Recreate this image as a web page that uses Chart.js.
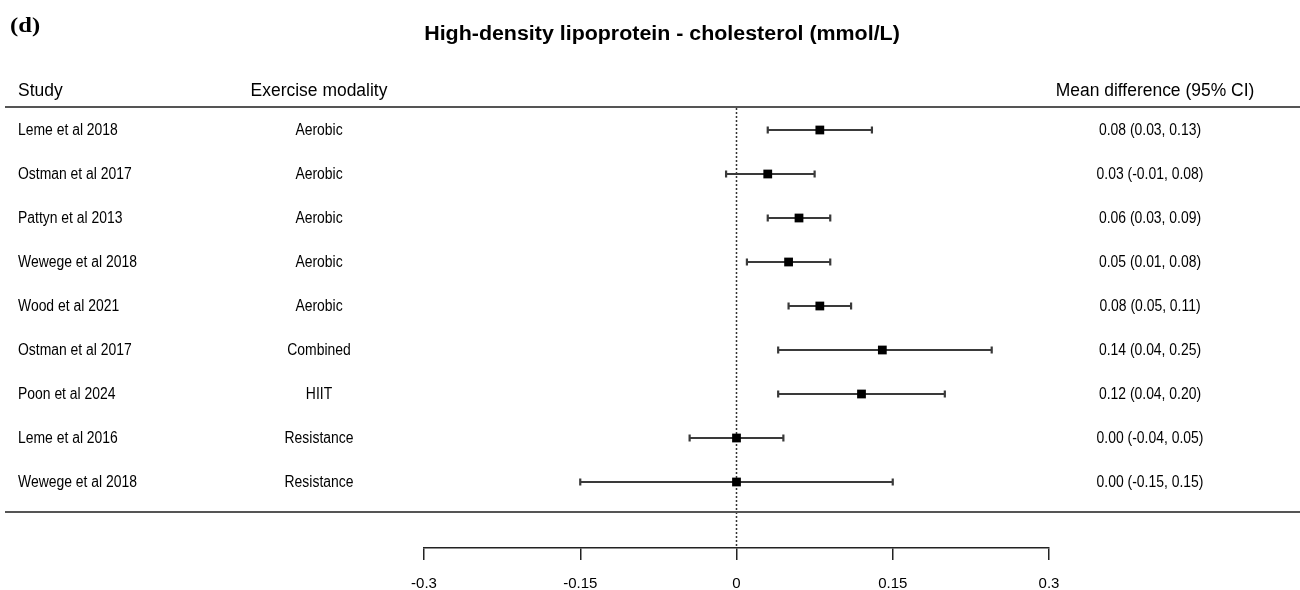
<!DOCTYPE html>
<html>
<head>
<meta charset="utf-8">
<script src="https://cdn.jsdelivr.net/npm/chart.js@4.4.1/dist/chart.umd.min.js"></script>
<style>
  html, body { margin: 0; padding: 0; background: #fff; }
</style>
</head>
<body>
<canvas id="forest" width="1300" height="590"></canvas>
<script>
// rows, top to bottom
const studies = [
	'Leme et al 2018', 'Ostman et al 2017', 'Pattyn et al 2013', 'Wewege et al 2018',
	'Wood et al 2021', 'Ostman et al 2017', 'Poon et al 2024', 'Leme et al 2016', 'Wewege et al 2018'
]
const modalities = [
	'Aerobic', 'Aerobic', 'Aerobic', 'Aerobic', 'Aerobic', 'Combined', 'HIIT', 'Resistance', 'Resistance'
]
const meanDiff = [0.08, 0.03, 0.06, 0.05, 0.08, 0.14, 0.12, 0.00, 0.00]
const lowerCI = [0.03, -0.01, 0.03, 0.01, 0.05, 0.04, 0.04, -0.045, -0.15]
const upperCI = [0.13, 0.075, 0.09, 0.09, 0.11, 0.245, 0.20, 0.045, 0.15]
const ciLabels = [
	'0.08 (0.03, 0.13)', '0.03 (-0.01, 0.08)', '0.06 (0.03, 0.09)', '0.05 (0.01, 0.08)',
	'0.08 (0.05, 0.11)', '0.14 (0.04, 0.25)', '0.12 (0.04, 0.20)', '0.00 (-0.04, 0.05)', '0.00 (-0.15, 0.15)'
]
const xTicks = [-0.3, -0.15, 0, 0.15, 0.3]

const SANS = '"Liberation Sans", Arial, sans-serif'

// the reference text looks a bit squeezed sideways, so draw with a horizontal scale
function squeezeText(ctx, text, x, y, size, opts = {}) {
	ctx.save()
	ctx.font = `${opts.bold ? 'bold ' : ''}${size}px ${opts.family || SANS}`
	ctx.fillStyle = opts.color || '#000'
	ctx.textBaseline = 'middle'
	ctx.textAlign = opts.align || 'left'
	ctx.translate(x, y)
	ctx.scale(opts.sx || 1, 1)
	ctx.fillText(text, 0, 0)
	ctx.restore()
}

const forestPlugin = {
	id: 'forest',
	beforeDatasetsDraw(chart) {
		const { ctx, chartArea, scales: { x, y } } = chart
		// zero reference line
		ctx.save()
		ctx.strokeStyle = '#333'
		ctx.lineWidth = 1.5
		ctx.setLineDash([2, 2])
		ctx.beginPath()
		ctx.moveTo(x.getPixelForValue(0), chartArea.top)
		ctx.lineTo(x.getPixelForValue(0), chartArea.bottom)
		ctx.stroke()
		ctx.restore()

		// confidence intervals with end caps
		ctx.save()
		ctx.strokeStyle = '#3a3a3a'
		ctx.lineWidth = 2.2
		lowerCI.forEach((lo, i) => {
			const py = y.getPixelForValue(i)
			const x0 = x.getPixelForValue(lo)
			const x1 = x.getPixelForValue(upperCI[i])
			ctx.beginPath()
			ctx.moveTo(x0, py)
			ctx.lineTo(x1, py)
			ctx.moveTo(x0, py - 3.5)
			ctx.lineTo(x0, py + 3.5)
			ctx.moveTo(x1, py - 3.5)
			ctx.lineTo(x1, py + 3.5)
			ctx.stroke()
		})
		ctx.restore()
	},
	afterDraw(chart) {
		const { ctx, chartArea, scales: { y } } = chart
		squeezeText(ctx, '(d)', 10, 26, 22, { bold: true, family: '"Liberation Serif", "Times New Roman", serif', sx: 1.12 })
		squeezeText(ctx, 'High-density lipoprotein - cholesterol (mmol/L)', 662, 34, 20, { bold: true, align: 'center', sx: 1.07 })

		// header
		squeezeText(ctx, 'Study', 18, 91, 18, { sx: 0.97 })
		squeezeText(ctx, 'Exercise modality', 319, 91, 18, { align: 'center', sx: 0.97 })
		squeezeText(ctx, 'Mean difference (95% CI)', 1155, 91, 18, { align: 'center', sx: 0.97 })

		// rules
		ctx.save()
		ctx.strokeStyle = '#555'
		ctx.lineWidth = 2
		ctx.beginPath()
		ctx.moveTo(5, chartArea.top - 1)
		ctx.lineTo(1300, chartArea.top - 1)
		ctx.moveTo(5, y.getPixelForValue(8.68))
		ctx.lineTo(1300, y.getPixelForValue(8.68))
		ctx.stroke()
		ctx.restore()

		studies.forEach((s, i) => {
			const py = y.getPixelForValue(i) + 1
			squeezeText(ctx, s, 18, py, 16, { sx: 0.87 })
			squeezeText(ctx, modalities[i], 319, py, 16, { align: 'center', sx: 0.87 })
			squeezeText(ctx, ciLabels[i], 1150, py, 16, { align: 'center', sx: 0.87 })
		})
	}
}

const config = {
	type: 'scatter',
	data: {
		datasets: [{
			data: meanDiff.map((m, i) => ({ x: m, y: i })),
			pointStyle: 'rect',
			pointRadius: 6.2,
			backgroundColor: '#000',
			borderColor: '#000',
			borderWidth: 0
		}]
	},
	options: {
		responsive: false,
		animation: false,
		layout: { padding: { left: 424, right: 251, top: 108, bottom: 0 } },
		plugins: {
			legend: { display: false },
			tooltip: { enabled: false }
		},
		scales: {
			x: {
				type: 'linear',
				min: -0.3,
				max: 0.3,
				afterBuildTicks: (scale) => { scale.ticks = xTicks.map(v => ({ value: v })) },
				afterFit: (scale) => { scale.height = 42 },
				grid: { drawOnChartArea: false, drawTicks: true, tickLength: 12, color: '#222', lineWidth: 1.5 },
				border: { display: true, color: '#222', width: 1.5 },
				ticks: {
					autoSkip: false,
					maxRotation: 0,
					padding: 15,
					color: '#000',
					font: { family: SANS, size: 15 },
					callback: (v) => String(v)
				}
			},
			y: {
				type: 'linear',
				reverse: true,
				min: -0.5,
				max: 9.5,
				display: false
			}
		}
	},
	plugins: [forestPlugin]
}

new Chart(document.getElementById('forest'), config)
</script>
</body>
</html>
